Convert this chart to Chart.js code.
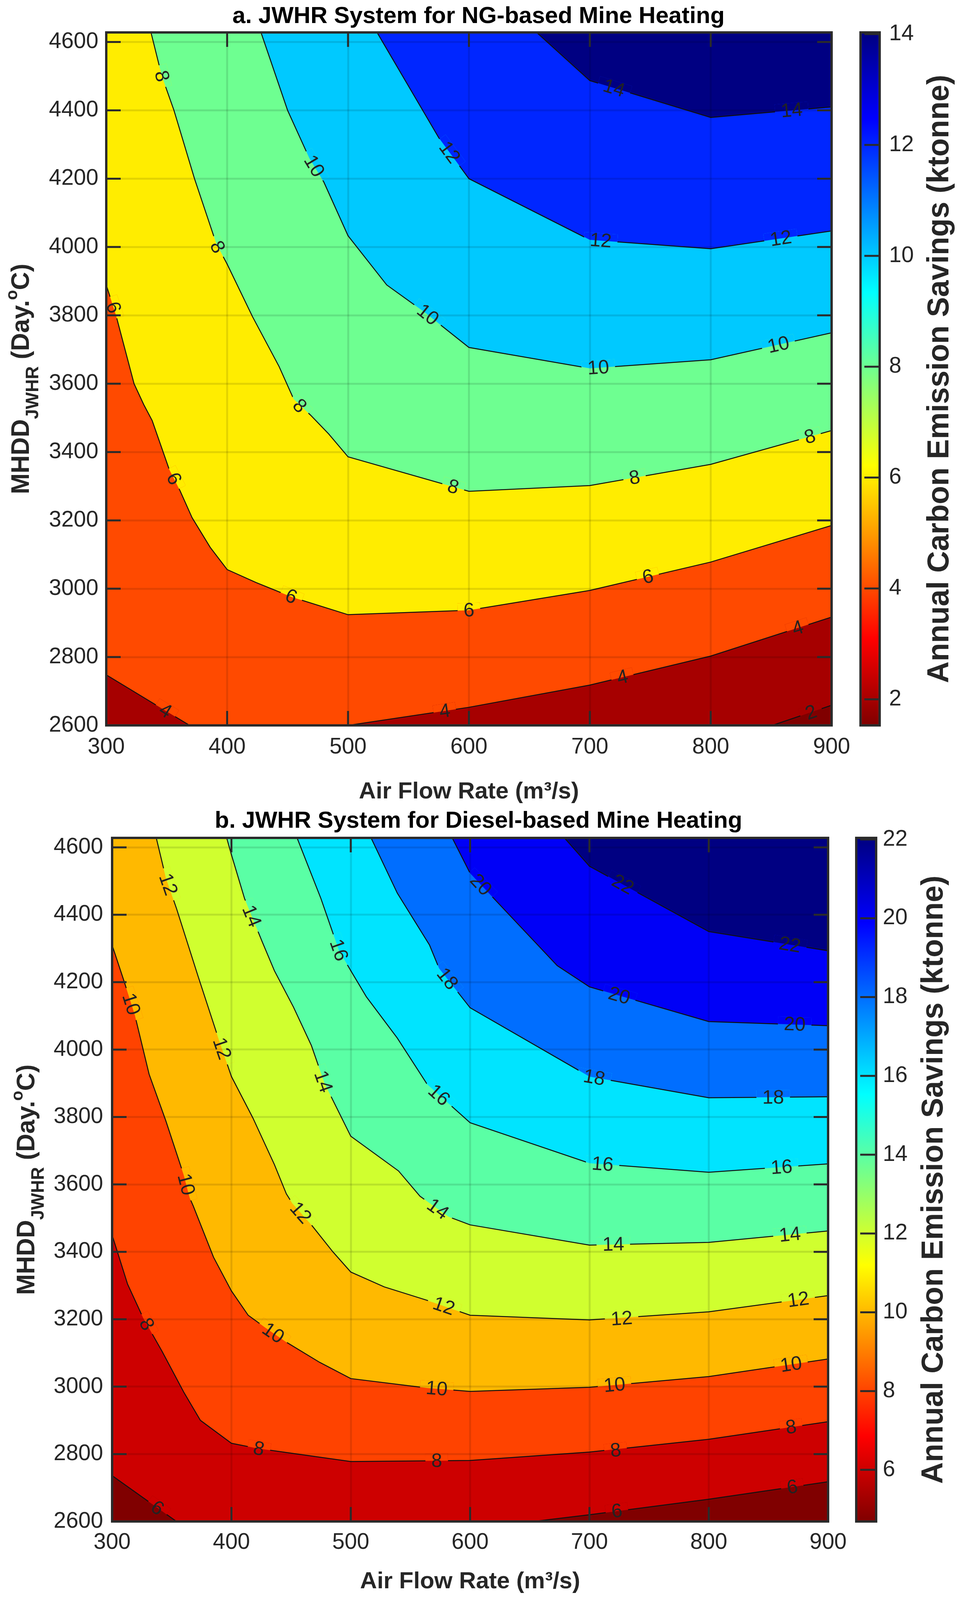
<!DOCTYPE html>
<html>
<head>
<meta charset="utf-8">
<script src="https://cdn.jsdelivr.net/npm/chart.js@4.4.1/dist/chart.umd.min.js"></script>
<style>
  html, body { margin: 0; padding: 0; background: #fff; overflow: hidden; }
  #wrapA { position: absolute; left: 0; top: 0; width: 2450px; height: 2061px; }
  #wrapB { position: absolute; left: 0; top: 2061px; width: 2450px; height: 2035px; }
  canvas { display: block; }
</style>
</head>
<body>
<div id="wrapA"><canvas id="chartA" width="2450" height="2061"></canvas></div>
<div id="wrapB"><canvas id="chartB" width="2450" height="2035"></canvas></div>
<script>
// ---- shared axes ----
var airFlowTicks = [300, 400, 500, 600, 700, 800, 900];
var mhddTicks = [2600, 2800, 3000, 3200, 3400, 3600, 3800, 4000, 4200, 4400, 4600];
var airFlowRange = [300, 900];
var mhddRange = [2600, 4628];

// ---- a. NG-based: contour lines [air flow, MHDD] ----
var cbTicksA = [2, 4, 6, 8, 10, 12, 14];
var cbRangeA = [1.53, 14.03];
var a2 = [[851, 2600], [900, 2659]];
var a4Left = [[300, 2748], [369, 2600]];
var a4Right = [[500, 2600], [600, 2653], [700, 2718], [800, 2803], [900, 2917]];
var a6 = [[300, 3889], [308, 3801], [323, 3600], [331, 3539], [338, 3492], [352, 3350], [361, 3287], [371, 3208], [386, 3121], [400, 3056], [424, 3018], [454, 2975], [500, 2924], [600, 2937], [700, 2995], [800, 3078], [900, 3185]];
var a8 = [[337, 4628], [346, 4500], [356, 4400], [373, 4200], [391, 4010], [400, 3950], [421, 3796], [443, 3650], [455, 3555], [469, 3508], [484, 3453], [500, 3386], [600, 3285], [700, 3302], [800, 3364], [900, 3463]];
var a10 = [[428, 4628], [450, 4400], [468, 4260], [480, 4190], [500, 4033], [532, 3889], [563, 3810], [600, 3706], [700, 3645], [800, 3670], [900, 3749]];
var a12 = [[524, 4628], [575, 4320], [600, 4200], [700, 4021], [800, 3995], [900, 4047]];
var a14 = [[656, 4628], [700, 4487], [800, 4379], [900, 4410]];
// [level, air flow, MHDD]
var labelsA = [
  [8, 346, 4500], [8, 392, 4000], [8, 460, 3535], [8, 587, 3298], [8, 737, 3325], [8, 882, 3445],
  [10, 472, 4237], [10, 566, 3802], [10, 707, 3647], [10, 856, 3714],
  [12, 584, 4277], [12, 709, 4019], [12, 858, 4025],
  [14, 720, 4465], [14, 867, 4400],
  [6, 306, 3823], [6, 356, 3322], [6, 453, 2977], [6, 600, 2937], [6, 748, 3035],
  [4, 349, 2643], [4, 580, 2642], [4, 727, 2741], [4, 872, 2885],
  [2, 883, 2638]
];

// ---- b. Diesel-based ----
var cbTicksB = [6, 8, 10, 12, 14, 16, 18, 20, 22];
var cbRangeB = [4.69, 22.04];
var b6Left = [[300, 2736], [354, 2600]];
var b6Right = [[653, 2600], [700, 2620], [800, 2666], [900, 2718]];
var b8 = [[300, 3450], [313, 3304], [326, 3204], [342, 3104], [360, 2984], [374, 2900], [400, 2832], [423, 2816], [500, 2778], [600, 2781], [700, 2806], [800, 2844], [900, 2896]];
var b10 = [[300, 4310], [310, 4203], [319, 4103], [331, 3927], [345, 3789], [360, 3628], [365, 3560], [368, 3536], [385, 3384], [400, 3284], [414, 3212], [428, 3176], [446, 3132], [474, 3072], [500, 3024], [564, 2996], [600, 2986], [700, 2998], [800, 3030], [900, 3082]];
var b12 = [[337, 4628], [345, 4510], [354, 4418], [372, 4218], [389, 4034], [400, 3920], [418, 3797], [436, 3659], [446, 3572], [451, 3544], [467, 3480], [485, 3400], [500, 3340], [528, 3296], [564, 3256], [600, 3212], [700, 3198], [800, 3222], [900, 3270]];
var b14 = [[396, 4628], [400, 4578], [411, 4448], [426, 4318], [436, 4234], [452, 4126], [467, 4012], [478, 3900], [500, 3743], [540, 3640], [558, 3565], [582, 3504], [600, 3480], [700, 3420], [800, 3428], [900, 3462]];
var b16 = [[455, 4628], [475, 4448], [490, 4295], [500, 4234], [513, 4157], [539, 4034], [564, 3897], [600, 3783], [700, 3663], [800, 3636], [900, 3661]];
var b18 = [[517, 4628], [539, 4464], [566, 4310], [574, 4241], [600, 4124], [700, 3920], [800, 3857], [900, 3860]];
var b20 = [[585, 4628], [600, 4523], [673, 4249], [700, 4186], [800, 4083], [900, 4071]];
var b22 = [[679, 4628], [700, 4544], [800, 4350], [900, 4293]];
var labelsB = [
  [12, 347, 4490], [12, 392, 4003], [12, 458, 3516], [12, 578, 3239], [12, 727, 3202], [12, 875, 3258],
  [14, 417, 4396], [14, 477, 3905], [14, 573, 3527], [14, 720, 3422], [14, 868, 3451],
  [16, 490, 4295], [16, 574, 3865], [16, 711, 3660], [16, 861, 3651],
  [18, 581, 4210], [18, 704, 3917], [18, 854, 3858],
  [20, 609, 4489], [20, 725, 4160], [20, 872, 4075],
  [22, 728, 4490], [22, 868, 4311],
  [10, 316, 4135], [10, 362, 3600], [10, 435, 3159], [10, 572, 2994], [10, 721, 3005], [10, 869, 3066],
  [8, 329, 3185], [8, 423, 2816], [8, 572, 2780], [8, 722, 2811], [8, 869, 2880],
  [6, 338, 2640], [6, 723, 2631], [6, 870, 2702]
];

var FONT = "'Liberation Sans', Arial, Helvetica, sans-serif";
var LABEL_SIZE = 50;
Chart.defaults.font.family = FONT;
Chart.defaults.color = '#262626';

// MATLAB jet, s = 0 -> dark blue, s = 1 -> dark red
function jet(s) {
  var c = function (v) { return Math.round(255 * Math.max(0, Math.min(1, v))); };
  return 'rgb(' + c(1.5 - Math.abs(4 * s - 3)) + ',' + c(1.5 - Math.abs(4 * s - 2)) + ',' + c(1.5 - Math.abs(4 * s - 1)) + ')';
}
// colour scale is reversed (low = red, high = blue)
function bandColor(v, range) {
  return jet((range[1] - v) / (range[1] - range[0]));
}

function toXY(arr) {
  return arr.map(function (p) { return {x: p[0], y: p[1]}; });
}

// region where value >= level (upper right of the line)
function regionAbove(line) {
  var first = line[0], last = line[line.length - 1];
  var pts = line.slice();
  if (last[1] === mhddRange[0] && last[0] !== airFlowRange[1]) pts.push([airFlowRange[1], mhddRange[0]]);
  pts.push([airFlowRange[1], mhddRange[1]]);
  if (first[0] === airFlowRange[0]) {
    pts.push([airFlowRange[0], mhddRange[1]]);
  } else if (first[1] === mhddRange[0]) {
    pts.push([airFlowRange[0], mhddRange[1]]);
    pts.push([airFlowRange[0], mhddRange[0]]);
  }
  return pts;
}

function nearestAngle(pieces, px, py, xs, ys) {
  var best = 1e12, ang = 0;
  pieces.forEach(function (p) {
    for (var i = 0; i < p.length - 1; i++) {
      var x1 = xs.getPixelForValue(p[i][0]), y1 = ys.getPixelForValue(p[i][1]);
      var x2 = xs.getPixelForValue(p[i + 1][0]), y2 = ys.getPixelForValue(p[i + 1][1]);
      var dx = x2 - x1, dy = y2 - y1, len2 = dx * dx + dy * dy;
      var t = len2 ? Math.max(0, Math.min(1, ((px - x1) * dx + (py - y1) * dy) / len2)) : 0;
      var qx = x1 + t * dx - px, qy = y1 + t * dy - py, d = qx * qx + qy * qy;
      if (d < best) { best = d; ang = Math.atan2(dy, dx); }
    }
  });
  if (ang > Math.PI / 2) ang -= Math.PI;
  if (ang < -Math.PI / 2) ang += Math.PI;
  return ang;
}

function labelGeometry(chart, cfg) {
  var xs = chart.scales.x, ys = chart.scales.y;
  return cfg.labels.map(function (l) {
    var idx = -1;
    cfg.contours.forEach(function (k, i) { if (k.level === l[0]) idx = i; });
    var px = xs.getPixelForValue(l[1]), py = ys.getPixelForValue(l[2]);
    return {text: String(l[0]), idx: idx, px: px, py: py, ang: nearestAngle(cfg.contours[idx].pieces, px, py, xs, ys)};
  });
}

function framePlugin(cfg) {
  return {
    id: 'frame',
    // open a gap in the contour line under each label by repainting the two bands there
    afterDatasetsDraw: function (chart) {
      var ctx = chart.ctx, a = chart.chartArea;
      ctx.save();
      ctx.font = LABEL_SIZE + 'px ' + FONT;
      labelGeometry(chart, cfg).forEach(function (g) {
        var w = ctx.measureText(g.text).width + 30, h = LABEL_SIZE * 0.75;
        ctx.save();
        ctx.beginPath();
        ctx.rect(a.left, a.top, a.right - a.left, a.bottom - a.top);
        ctx.clip();
        ctx.translate(g.px, g.py);
        ctx.rotate(g.ang);
        ctx.beginPath();
        ctx.rect(-w / 2, -h / 2, w, h);
        ctx.rotate(-g.ang);
        ctx.translate(-g.px, -g.py);
        ctx.clip();
        [g.idx, g.idx + 1].forEach(function (i) {
          var ds = chart.data.datasets[i];
          var pts = chart.getDatasetMeta(i).data;
          ctx.beginPath();
          pts.forEach(function (p, j) { if (j) ctx.lineTo(p.x, p.y); else ctx.moveTo(p.x, p.y); });
          ctx.closePath();
          ctx.fillStyle = ds.backgroundColor;
          ctx.fill();
        });
        ctx.restore();
      });
      ctx.restore();
    },
    afterDraw: function (chart) {
      var ctx = chart.ctx, a = chart.chartArea;
      var xs = chart.scales.x, ys = chart.scales.y, cb = chart.scales.cb;
      ctx.save();

      // contour labels
      ctx.font = LABEL_SIZE + 'px ' + FONT;
      ctx.fillStyle = '#222';
      ctx.textAlign = 'center';
      ctx.textBaseline = 'middle';
      labelGeometry(chart, cfg).forEach(function (g) {
        ctx.save();
        ctx.translate(g.px, g.py);
        ctx.rotate(g.ang);
        ctx.fillText(g.text, 0, 2);
        ctx.restore();
      });

      // inward ticks and box
      ctx.strokeStyle = '#2b2b2b';
      ctx.lineWidth = 5;
      ctx.beginPath();
      airFlowTicks.forEach(function (v) {
        var px = xs.getPixelForValue(v);
        ctx.moveTo(px, a.bottom); ctx.lineTo(px, a.bottom - 37);
        ctx.moveTo(px, a.top); ctx.lineTo(px, a.top + 37);
      });
      mhddTicks.forEach(function (v) {
        var py = ys.getPixelForValue(v);
        ctx.moveTo(a.left, py); ctx.lineTo(a.left + 37, py);
        ctx.moveTo(a.right, py); ctx.lineTo(a.right - 37, py);
      });
      ctx.stroke();
      ctx.lineWidth = 6;
      ctx.strokeRect(a.left, a.top, a.right - a.left, a.bottom - a.top);

      // colour bar
      var top = cb.getPixelForValue(cfg.cbRange[1]), bot = cb.getPixelForValue(cfg.cbRange[0]);
      var left = a.right + cfg.cbGap, w = cfg.cbWidth;
      var grad = ctx.createLinearGradient(0, top, 0, bot);
      [0, 0.125, 0.375, 0.625, 0.875, 1].forEach(function (s) { grad.addColorStop(s, jet(s)); });
      ctx.fillStyle = grad;
      ctx.fillRect(left, top, w, bot - top);
      ctx.lineWidth = 5;
      ctx.beginPath();
      cfg.cbTicks.forEach(function (v) {
        var py = cb.getPixelForValue(v);
        ctx.moveTo(left + w, py); ctx.lineTo(left + w * 0.2, py);
      });
      ctx.stroke();
      ctx.lineWidth = 6;
      ctx.strokeRect(left, top, w, bot - top);

      // colour bar label
      ctx.fillStyle = '#262626';
      ctx.font = 'bold 77px ' + FONT;
      ctx.textAlign = 'center';
      ctx.textBaseline = 'alphabetic';
      ctx.save();
      ctx.translate(cfg.cbLabelX, (top + bot) / 2);
      ctx.rotate(-Math.PI / 2);
      ctx.fillText('Annual Carbon Emission Savings (ktonne)', 0, 0);
      ctx.restore();

      // y label with subscript / superscript
      var parts = [
        {t: 'MHDD', size: 64, dy: 0},
        {t: 'JWHR', size: 46, dy: 24},
        {t: ' (Day.', size: 64, dy: 0},
        {t: 'o', size: 42, dy: -30},
        {t: 'C)', size: 64, dy: 0}
      ];
      var total = 0;
      parts.forEach(function (p) {
        ctx.font = 'bold ' + p.size + 'px ' + FONT;
        p.w = ctx.measureText(p.t).width;
        total += p.w;
      });
      ctx.save();
      ctx.translate(cfg.yLabelX, (a.top + a.bottom) / 2);
      ctx.rotate(-Math.PI / 2);
      ctx.textAlign = 'left';
      var cx = -total / 2;
      parts.forEach(function (p) {
        ctx.font = 'bold ' + p.size + 'px ' + FONT;
        ctx.fillText(p.t, cx, p.dy);
        cx += p.w;
      });
      ctx.restore();

      ctx.restore();
    }
  };
}

function makeChart(id, cfg) {
  var baseRect = [[airFlowRange[0], mhddRange[0]], [airFlowRange[1], mhddRange[0]], [airFlowRange[1], mhddRange[1]], [airFlowRange[0], mhddRange[1]]];
  var datasets = [{
    data: toXY(baseRect), backgroundColor: bandColor(cfg.cbRange[0], cfg.cbRange),
    fill: 'shape', borderWidth: 0, order: 100
  }];
  cfg.contours.forEach(function (c, i) {
    var line = [].concat.apply([], c.pieces);
    datasets.push({
      data: toXY(regionAbove(line)), backgroundColor: bandColor(c.level, cfg.cbRange),
      fill: 'shape', borderWidth: 0, order: 99 - i
    });
  });
  cfg.contours.forEach(function (c) {
    c.pieces.forEach(function (p) {
      datasets.push({data: toXY(p), borderColor: '#111', borderWidth: 2.5, fill: false, order: 0});
    });
  });

  var tickFont = {size: 57, lineHeight: 1};
  var fmt = function (v) { return String(v); };
  var gridOpts = {color: 'rgba(0,0,0,0.11)', lineWidth: 5, drawTicks: false, z: 1};

  return new Chart(document.getElementById(id), {
    type: 'line',
    data: {datasets: datasets},
    options: {
      responsive: false,
      devicePixelRatio: 1,
      animation: false,
      events: [],
      layout: {padding: 0},
      elements: {point: {radius: 0, hitRadius: 0}, line: {tension: 0}},
      plugins: {
        legend: {display: false},
        tooltip: {enabled: false},
        title: {
          display: true, text: cfg.title, color: '#000',
          font: {size: 60, weight: 'bold', lineHeight: 1},
          padding: cfg.titlePad
        }
      },
      scales: {
        x: {
          type: 'linear', position: 'bottom', min: airFlowRange[0], max: airFlowRange[1],
          afterBuildTicks: function (s) { s.ticks = airFlowTicks.map(function (v) { return {value: v}; }); },
          afterFit: function (s) { s.height = cfg.xH; },
          grid: gridOpts, border: {display: false},
          ticks: {padding: cfg.xTickPad, font: tickFont, maxRotation: 0, autoSkip: false, callback: fmt},
          title: {
            display: true, text: 'Air Flow Rate (m³/s)', color: '#262626',
            font: {size: 60, weight: 'bold', lineHeight: 1}, padding: {top: 0, bottom: cfg.xTitlePad}
          }
        },
        y: {
          type: 'linear', position: 'left', min: mhddRange[0], max: mhddRange[1],
          afterBuildTicks: function (s) { s.ticks = mhddTicks.map(function (v) { return {value: v}; }); },
          afterFit: function (s) { s.width = cfg.yW; },
          grid: gridOpts, border: {display: false},
          ticks: {padding: cfg.yTickPad, font: tickFont, autoSkip: false, callback: fmt}
        },
        cb: {
          type: 'linear', position: 'right', min: cfg.cbRange[0], max: cfg.cbRange[1],
          afterBuildTicks: function (s) { s.ticks = cfg.cbTicks.map(function (v) { return {value: v}; }); },
          afterFit: function (s) { s.width = cfg.cbW; },
          // hidden tick marks only push the labels past the colour bar
          grid: {display: false, drawTicks: true, tickLength: cfg.cbTickPad}, border: {display: false},
          ticks: {padding: 0, font: tickFont, autoSkip: false, callback: fmt}
        }
      }
    },
    plugins: [framePlugin(cfg)]
  });
}

var contoursA = [
  {level: 2, pieces: [a2]},
  {level: 4, pieces: [a4Left, a4Right]},
  {level: 6, pieces: [a6]},
  {level: 8, pieces: [a8]},
  {level: 10, pieces: [a10]},
  {level: 12, pieces: [a12]},
  {level: 14, pieces: [a14]}
];
var contoursB = [
  {level: 6, pieces: [b6Left, b6Right]},
  {level: 8, pieces: [b8]},
  {level: 10, pieces: [b10]},
  {level: 12, pieces: [b12]},
  {level: 14, pieces: [b14]},
  {level: 16, pieces: [b16]},
  {level: 18, pieces: [b18]},
  {level: 20, pieces: [b20]},
  {level: 22, pieces: [b22]}
];

makeChart('chartA', {
  title: 'a. JWHR System for NG-based Mine Heating',
  contours: contoursA, labels: labelsA, cbTicks: cbTicksA, cbRange: cbRangeA,
  yW: 272, cbW: 321, xH: 204, titlePad: {top: 12, bottom: 11},
  xTickPad: 28, yTickPad: 20, cbTickPad: 147, xTitlePad: 4,
  cbGap: 74, cbWidth: 49, cbLabelX: 2428, yLabelX: 74
});
makeChart('chartB', {
  title: 'b. JWHR System for Diesel-based Mine Heating',
  contours: contoursB, labels: labelsB, cbTicks: cbTicksB, cbRange: cbRangeB,
  yW: 287, cbW: 330, xH: 201, titlePad: {top: 11, bottom: 13},
  xTickPad: 26, yTickPad: 23, cbTickPad: 140, xTitlePad: 17,
  cbGap: 72, cbWidth: 51, cbLabelX: 2413, yLabelX: 88
});
</script>
</body>
</html>
